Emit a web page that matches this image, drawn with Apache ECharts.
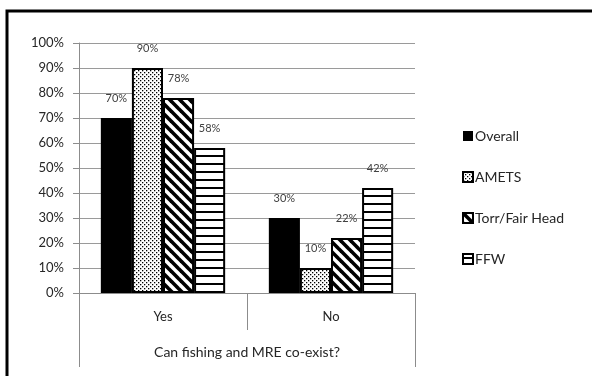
<!DOCTYPE html>
<html>
<head>
<meta charset="utf-8">
<style>
  html, body { margin: 0; padding: 0; background: #fff; }
  #chart { width: 592px; height: 376px; }
</style>
<script src="https://cdn.jsdelivr.net/npm/echarts@6/dist/echarts.min.js"></script>
</head>
<body>
<div id="chart"></div>
<script>
// Survey answers, percent of respondents
const categories = ['Yes', 'No'];
const axisTitle = 'Can fishing and MRE co-exist?';
const seriesNames = ['Overall', 'AMETS', 'Torr/Fair Head', 'FFW'];
const overall = [70, 30];
const amets = [90, 10];
const torrFairHead = [78, 22];
const ffw = [58, 42];

// Monochrome fill patterns drawn on small tiles
function tile(w, h, draw) {
  const c = document.createElement('canvas');
  c.width = w; c.height = h;
  const ctx = c.getContext('2d');
  ctx.fillStyle = '#fff';
  ctx.fillRect(0, 0, w, h);
  ctx.fillStyle = '#000';
  ctx.strokeStyle = '#000';
  draw(ctx, w, h);
  return { image: c, repeat: 'repeat' };
}
const dotted = tile(4, 4, (ctx) => {
  ctx.fillRect(0, 0, 1.3, 1.3);
  ctx.fillRect(2, 2, 1.3, 1.3);
});
const diagonal = tile(10, 10, (ctx, w, h) => {
  ctx.lineWidth = 3.6;
  for (let k = -1; k <= 1; k++) {
    ctx.beginPath();
    ctx.moveTo(k * w - 2, -2);
    ctx.lineTo(k * w + w + 2, h + 2);
    ctx.stroke();
  }
});
const horizontal = tile(8, 8, (ctx) => {
  ctx.fillRect(0, 3, 8, 2);
});

const fills = ['#000', dotted, diagonal, horizontal];
const values = [overall, amets, torrFairHead, ffw];

const chart = echarts.init(document.getElementById('chart'), null, { renderer: 'canvas' });
const font = 'Lato, "Liberation Sans", sans-serif';

chart.setOption({
  animation: false,
  backgroundColor: '#fff',
  grid: { left: 79, right: 177, top: 43, bottom: 83 },
  legend: {
    orient: 'vertical',
    left: 457,
    top: 124,
    icon: 'rect',
    itemWidth: 10,
    itemHeight: 10,
    itemGap: 27,
    data: seriesNames,
    textStyle: { fontFamily: font, fontSize: 14, color: '#262626', padding: [0, 0, 0, -3] }
  },
  xAxis: [
    {
      type: 'category',
      data: categories,
      axisLine: { lineStyle: { color: '#8c8c8c', width: 1 } },
      axisTick: { show: true, length: 37, interval: 0, lineStyle: { color: '#8c8c8c' } },
      axisLabel: { margin: 17, fontFamily: font, fontSize: 13, color: '#262626' }
    },
    {
      type: 'category',
      data: [axisTitle],
      position: 'bottom',
      axisLine: { show: false },
      axisTick: { show: true, length: 74, interval: 0, lineStyle: { color: '#8c8c8c' } },
      axisLabel: { margin: 52, fontFamily: font, fontSize: 14, color: '#262626' }
    }
  ],
  yAxis: {
    type: 'value',
    min: 0,
    max: 100,
    interval: 10,
    axisLine: { show: true, lineStyle: { color: '#8c8c8c' } },
    axisTick: { show: true, length: 6, lineStyle: { color: '#8c8c8c' } },
    axisLabel: { formatter: '{value}%', margin: 15, fontFamily: font, fontSize: 13, color: '#262626' },
    splitLine: { lineStyle: { color: '#9a9a9a', width: 1 } }
  },
  series: seriesNames.map((name, i) => ({
    name: name,
    type: 'bar',
    xAxisIndex: 0,
    data: values[i],
    barGap: '0%',
    barCategoryGap: '26%',
    itemStyle: {
      color: fills[i],
      borderColor: '#000',
      borderWidth: i === 0 ? 0 : 2
    },
    label: {
      show: true,
      position: 'top',
      distance: 14,
      formatter: '{c}%',
      fontFamily: font,
      fontSize: 11,
      color: '#404040'
    }
  })),
  graphic: [
    {
      type: 'rect',
      shape: { x: 7, y: 11, width: 700, height: 500 },
      style: { fill: 'none', stroke: '#000', lineWidth: 3 },
      silent: true
    }
  ]
});
</script>
</body>
</html>
